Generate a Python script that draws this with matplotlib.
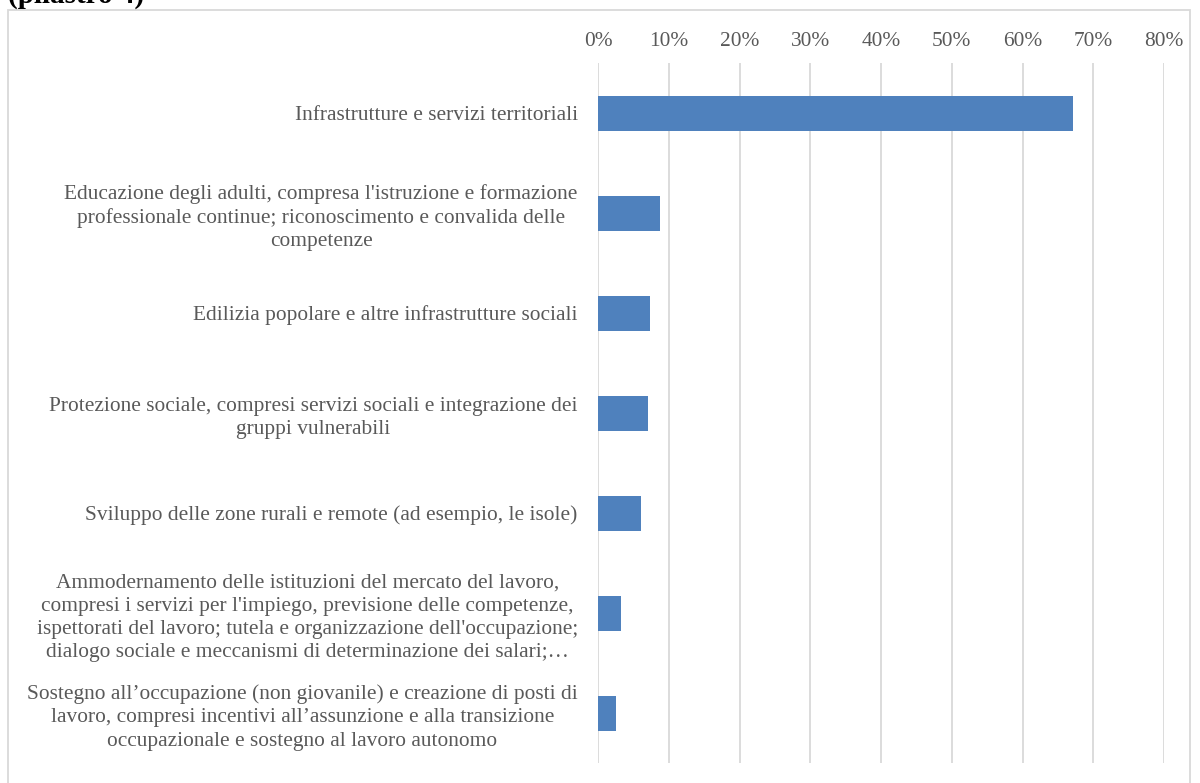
import matplotlib
matplotlib.use("Agg")
import matplotlib.pyplot as plt
from matplotlib.patches import Rectangle
from matplotlib.ticker import PercentFormatter

plt.rcParams['font.family'] = ['Liberation Serif', 'DejaVu Serif']

categories = [
    "Infrastrutture e servizi territoriali",
    "Educazione degli adulti, compresa l'istruzione e formazione\nprofessionale continue; riconoscimento e convalida delle\ncompetenze",
    "Edilizia popolare e altre infrastrutture sociali",
    "Protezione sociale, compresi servizi sociali e integrazione dei\ngruppi vulnerabili",
    "Sviluppo delle zone rurali e remote (ad esempio, le isole)",
    "Ammodernamento delle istituzioni del mercato del lavoro,\ncompresi i servizi per l'impiego, previsione delle competenze,\nispettorati del lavoro; tutela e organizzazione dell'occupazione;\ndialogo sociale e meccanismi di determinazione dei salari;\u2026",
    "Sostegno all\u2019occupazione (non giovanile) e creazione di posti di\nlavoro, compresi incentivi all\u2019assunzione e alla transizione\noccupazionale e sostegno al lavoro autonomo",
]
values = [0.671, 0.087, 0.073, 0.070, 0.061, 0.033, 0.026]
x_ticks = [0, 0.1, 0.2, 0.3, 0.4, 0.5, 0.6, 0.7, 0.8]

W, H = 1200, 783
fig = plt.figure(figsize=(W / 100, H / 100), dpi=100)
ax = fig.add_axes([598 / W, 1 - 763 / H, (1164 - 598) / W, (763 - 63) / H])

pos = list(range(len(categories)))
ax.barh(pos, values, height=0.35, color='#4f81bd')
ax.set_ylim(len(categories) - 0.5, -0.5)
ax.set_xlim(0, 0.8)
ax.set_xticks(x_ticks)
ax.xaxis.set_major_formatter(PercentFormatter(1.0, decimals=0))
ax.xaxis.tick_top()
ax.set_yticks(pos)
ax.set_yticklabels(categories, multialignment='center', linespacing=1.3)
ax.tick_params(axis='both', length=0, labelsize=15.4, colors='#595959')
ax.tick_params(axis='x', pad=9)
ax.tick_params(axis='y', pad=14.5)
ax.grid(axis='x', color='#d9d9d9', linewidth=1.3)
ax.set_axisbelow(True)
for s in ax.spines.values():
    s.set_visible(False)

# chart border and cut-off title
fig.patches.append(Rectangle((8 / W, -0.05), (1190 - 8) / W, 1 - 10 / H + 0.05,
                             transform=fig.transFigure, fill=False,
                             edgecolor='#d9d9d9', linewidth=1.3))
fig.text(8 / W, 1 - 3 / H, "(pilastro 4)", fontsize=21, fontweight='bold',
         va='baseline', ha='left', color='black')

fig.savefig("out.png", dpi=100)
